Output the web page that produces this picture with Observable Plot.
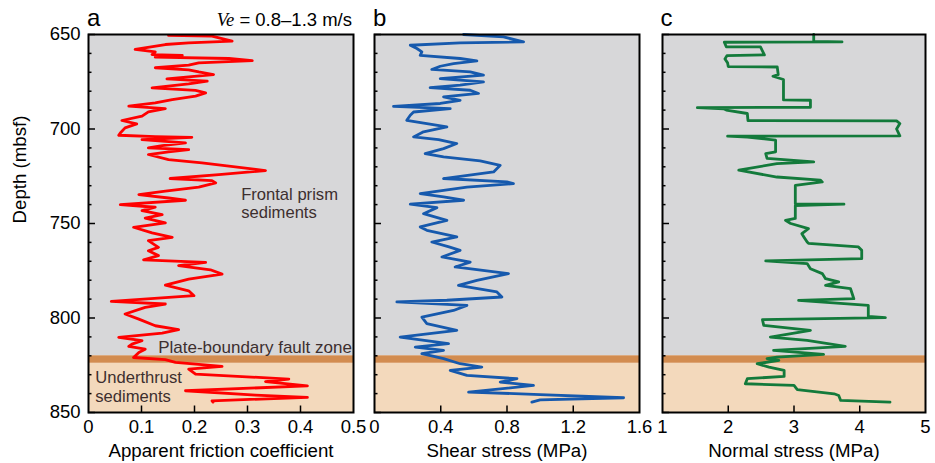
<!DOCTYPE html>
<html>
<head>
<meta charset="utf-8">
<script src="https://cdn.jsdelivr.net/npm/d3@7"></script>
<script src="https://cdn.jsdelivr.net/npm/@observablehq/plot@0.6"></script>
<style>
  body { margin: 0; background: #fff; }
  #wrap { position: relative; width: 935px; height: 463px; font-family: "Liberation Sans", Arial, sans-serif; }
  #wrap svg { position: absolute; top: 0; overflow: visible; }
  #ve { position: absolute; top: 11px; right: 583px; font-size: 18.5px; line-height: 1; white-space: nowrap; color: #000; }
  #ve i { font-family: "Liberation Serif", "Times New Roman", serif; }
</style>
</head>
<body>
<div id="wrap"><div id="ve"><i>Ve</i> = 0.8–1.3 m/s</div></div>
<script>
// ---- ticks ----
const depthMajor = [650, 700, 750, 800, 850];
const depthMinor = [660, 670, 680, 690, 710, 720, 730, 740, 760, 770, 780, 790, 810, 820, 830, 840];
const frictionTicks = [0, 0.1, 0.2, 0.3, 0.4, 0.5];
const shearTicks = [0, 0.4, 0.8, 1.2, 1.6];
const normalTicks = [1, 2, 3, 4, 5];

// ---- depth zones ----
const zones = [
  {name: "Frontal prism sediments", top: 650, bottom: 820, color: "#d7d7d9"},
  {name: "Plate-boundary fault zone", top: 820, bottom: 824, color: "#d28c50"},
  {name: "Underthrust sediments", top: 824, bottom: 850, color: "#f3d9bc"}
];

// ---- annotations (panel a) ----
const annotations = [
  {label: "Frontal prism\nsediments", x: 0.288, depth: 747.2, anchor: "start"},
  {label: "Plate-boundary fault zone", x: 0.497, depth: 818.6, anchor: "end"},
  {label: "Underthrust\nsediments", x: 0.0127, depth: 844.2, anchor: "start"}
];

// ---- a: apparent friction coefficient ----
const frictionDepth = [650.5,650.9,653.5,654.4,655.3,657.9,659.2,660.6,661.1,662.0,662.7,663.8,665.0,666.2,667.6,668.7,669.8,671.2,672.4,673.5,674.7,676.1,678.2,679.6,680.9,682.6,684.4,686.2,687.9,689.2,690.9,693.2,695.5,697.3,699.4,702.1,703.3,704.0,704.4,705.6,707.3,708.8,710.0,710.9,712.1,713.5,716.2,717.9,722.0,724.1,726.2,727.3,728.5,730.8,732.9,734.7,736.5,737.7,740.0,741.4,743.2,745.3,747.1,749.7,752.0,755.0,757.3,759.1,762.6,764.4,767.0,769.2,770.6,772.3,774.5,776.8,779.4,782.6,785.6,788.2,791.2,792.6,794.4,797.9,800.6,804.1,806.2,808.0,810.3,812.0,813.8,815.0,816.5,818.2,820.9,822.0,823.5,825.6,827.0,829.7,832.3,833.7,835.9,838.5,840.8,842.0,843.8,844.5];
const frictionValue = [0.151,0.233,0.271,0.189,0.145,0.088,0.126,0.120,0.177,0.126,0.265,0.309,0.208,0.189,0.126,0.189,0.208,0.236,0.189,0.148,0.224,0.189,0.120,0.202,0.221,0.202,0.158,0.126,0.076,0.145,0.113,0.101,0.063,0.091,0.069,0.060,0.057,0.126,0.195,0.101,0.183,0.139,0.113,0.189,0.151,0.113,0.151,0.214,0.334,0.246,0.154,0.233,0.240,0.208,0.145,0.095,0.151,0.183,0.060,0.126,0.101,0.139,0.107,0.145,0.085,0.120,0.158,0.113,0.132,0.113,0.132,0.104,0.221,0.170,0.230,0.252,0.189,0.145,0.189,0.199,0.043,0.145,0.107,0.069,0.095,0.126,0.170,0.139,0.057,0.101,0.082,0.076,0.107,0.095,0.085,0.145,0.164,0.252,0.189,0.202,0.378,0.334,0.413,0.183,0.315,0.413,0.233,0.235];

// ---- b: shear stress (MPa) ----
const shearDepth = [650.0,651.3,653.9,654.4,655.7,657.4,659.2,661.0,662.7,664.0,665.4,666.8,668.5,669.8,671.5,673.3,675.1,676.8,678.1,679.5,681.2,683.0,684.8,686.5,688.0,689.2,691.0,692.7,695.4,697.1,698.9,701.5,704.2,705.6,707.7,710.4,713.0,714.8,716.9,719.2,722.7,726.2,728.0,728.9,730.7,734.2,735.9,737.7,739.8,741.6,744.8,748.3,751.8,753.6,757.1,759.8,762.4,764.2,767.7,770.4,773.0,776.5,780.1,782.7,786.2,788.9,790.6,791.5,793.3,796.0,799.5,803.0,806.5,810.1,813.6,815.4,817.1,818.9,821.5,824.2,826.0,827.7,830.4,832.1,833.9,835.7,839.2,840.5,842.2,843.3,844.5];
const shearValue = [0.538,0.779,0.900,0.517,0.216,0.256,0.286,0.276,0.517,0.618,0.477,0.397,0.346,0.578,0.658,0.397,0.658,0.517,0.336,0.578,0.628,0.417,0.517,0.397,0.115,0.457,0.236,0.216,0.195,0.316,0.437,0.296,0.236,0.387,0.497,0.417,0.306,0.417,0.638,0.759,0.719,0.417,0.799,0.839,0.558,0.276,0.417,0.538,0.216,0.377,0.296,0.437,0.276,0.316,0.497,0.346,0.450,0.517,0.407,0.578,0.487,0.809,0.618,0.507,0.739,0.769,0.437,0.135,0.558,0.477,0.286,0.316,0.497,0.155,0.447,0.246,0.417,0.286,0.417,0.517,0.648,0.457,0.558,0.860,0.759,0.960,0.568,1.000,1.504,1.000,0.950];

// ---- c: normal stress (MPa) ----
const normalDepth = [650.0,653.7,653.9,654.1,656.5,656.6,660.8,661.2,663.0,665.0,667.0,667.2,671.2,672.1,673.8,684.6,684.8,688.5,688.7,689.3,690.0,691.8,695.5,695.7,697.1,700.0,703.6,703.8,704.3,705.9,712.1,713.0,715.5,717.4,718.3,721.8,725.4,727.0,728.0,729.8,739.6,739.8,740.5,747.3,748.3,750.0,752.7,755.4,757.1,759.8,760.5,762.4,764.2,768.6,769.8,771.2,773.9,776.5,779.2,780.9,782.7,784.5,789.8,790.7,793.3,799.1,799.8,800.9,803.9,806.5,810.1,811.8,815.0,817.1,819.2,820.7,821.5,822.4,824.2,826.0,827.7,830.9,832.1,834.8,835.7,837.9,840.1,841.0,843.6,844.5];
const normalValue = [3.30,3.30,3.73,1.94,1.97,2.49,2.55,1.98,1.95,1.99,2.00,2.745,2.76,2.68,2.84,2.84,3.25,3.25,1.53,1.93,1.97,2.29,2.30,4.56,4.61,4.56,4.61,1.99,2.29,2.72,2.72,2.57,2.59,3.30,2.74,2.16,2.74,3.40,3.43,3.02,3.02,3.76,3.02,3.02,2.87,2.95,3.22,3.12,3.15,3.20,3.22,3.98,4.03,4.03,2.57,3.20,3.25,3.43,3.48,3.68,3.48,3.86,3.91,3.07,4.13,4.13,4.39,2.52,2.54,3.25,2.64,3.20,3.78,2.69,3.45,2.74,2.59,2.77,2.44,2.62,2.85,2.85,2.29,2.26,3.00,3.05,3.61,3.68,3.71,4.46];

const toRows = (depths, values) => depths.map((d, i) => ({d, v: values[i]}));

const H = 463, MT = 34, MB = 51;
const FONT = "'Liberation Sans', Arial, sans-serif";
const textColor = "#3d2f2f";

function panel({left, width, ml, mr, rows, xDomain, xTicks, xLabel, color, letter, letterDx, yAxis, extra = []}) {
  const areaW = width - ml - mr, areaH = H - MT - MB;
  const marks = [
    Plot.rect(zones, {y1: "top", y2: "bottom", fill: "color"}),
    Plot.line(rows, {x: "v", y: "d", stroke: color, strokeWidth: 2.8, strokeLinejoin: "round"}),
    ...extra,
    Plot.tickY(depthMinor, {y: d => d, insetRight: areaW - 3.5, stroke: "#000", strokeWidth: 1.5}),
    Plot.tickY(depthMajor, {y: d => d, insetRight: areaW - 7, stroke: "#000", strokeWidth: 1.5}),
    Plot.tickX(xTicks.slice(1, -1), {x: d => d, insetTop: areaH - 6.5, stroke: "#000", strokeWidth: 1.5}),
    Plot.frame({stroke: "#000", strokeWidth: 2}),
    Plot.axisX(xTicks, {tickSize: 0, tickPadding: 7, fontSize: 18.5, label: null, tickFormat: d => String(d)}),
    Plot.text([xLabel], {text: d => d, frameAnchor: "bottom", lineAnchor: "top", dy: 31, fontSize: 18.7}),
    Plot.text([letter], {text: d => d, frameAnchor: "top-left", textAnchor: "start", lineAnchor: "bottom", dy: -9, dx: letterDx, fontSize: 24})
  ];
  if (yAxis) {
    marks.push(Plot.axisY(depthMajor, {tickSize: 0, tickPadding: 8, fontSize: 18.5, label: null}));
    marks.push(Plot.text(["Depth (mbsf)"], {text: d => d, frameAnchor: "left", rotate: -90, dx: -68, fontSize: 18.7}));
  }
  const svg = Plot.plot({
    width, height: H,
    marginLeft: ml, marginRight: mr, marginTop: MT, marginBottom: MB,
    style: {fontFamily: FONT, color: "#000", background: "transparent", overflow: "visible"},
    x: {domain: xDomain},
    y: {domain: [650, 850], reverse: true, ...(yAxis ? {} : {axis: null})},
    marks
  });
  svg.style.left = left + "px";
  return svg;
}

const wrap = document.getElementById("wrap");
const annoStart = annotations.filter(d => d.anchor === "start");
const annoEnd = annotations.filter(d => d.anchor === "end");

wrap.appendChild(panel({
  left: 0, width: 363, ml: 88, mr: 10,
  rows: toRows(frictionDepth, frictionValue),
  xDomain: [0, 0.5], xTicks: frictionTicks, xLabel: "Apparent friction coefficient",
  color: "#ff0000", letter: "a", letterDx: -1.5, yAxis: true,
  extra: [
    Plot.text(annoStart, {x: "x", y: "depth", text: "label", textAnchor: "start", lineAnchor: "bottom", lineHeight: 1.1, fontSize: 16.6, fill: textColor}),
    Plot.text(annoEnd, {x: "x", y: "depth", text: "label", textAnchor: "end", lineAnchor: "bottom", fontSize: 17, fill: textColor})
  ]
}));

wrap.appendChild(panel({
  left: 363, width: 288, ml: 11, mr: 12,
  rows: toRows(shearDepth, shearValue),
  xDomain: [0, 1.6], xTicks: shearTicks, xLabel: "Shear stress (MPa)",
  color: "#1659ad", letter: "b", letterDx: -1.5, yAxis: false
}));

wrap.appendChild(panel({
  left: 651, width: 284, ml: 11, mr: 10,
  rows: toRows(normalDepth, normalValue),
  xDomain: [1, 5], xTicks: normalTicks, xLabel: "Normal stress (MPa)",
  color: "#137a3b", letter: "c", letterDx: -2, yAxis: false
}));
</script>
</body>
</html>
